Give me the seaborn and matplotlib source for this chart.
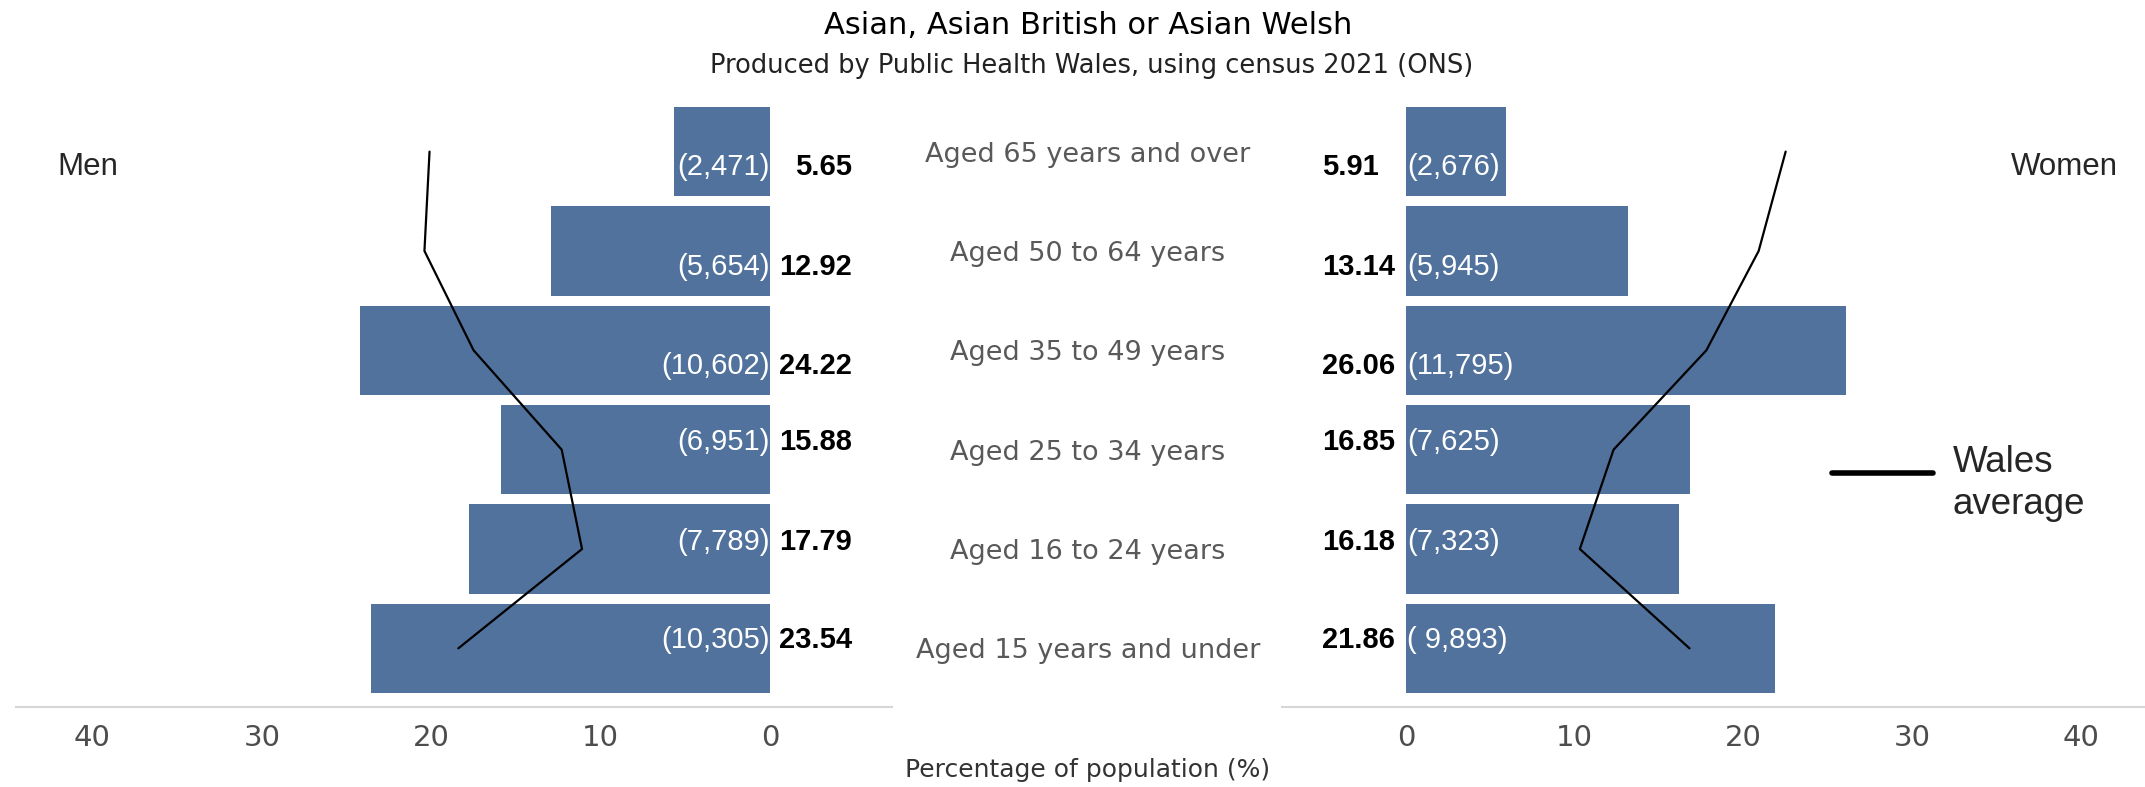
import pandas as pd
import matplotlib.pyplot as plt
import seaborn as sns
from matplotlib.lines import Line2D

# data (top row = oldest group)
age_groups = ['Aged 65 years and over', 'Aged 50 to 64 years', 'Aged 35 to 49 years',
              'Aged 25 to 34 years', 'Aged 16 to 24 years', 'Aged 15 years and under']
men_pct = [5.65, 12.92, 24.22, 15.88, 17.79, 23.54]
women_pct = [5.91, 13.14, 26.06, 16.85, 16.18, 21.86]
men_count = ['(2,471)', '(5,654)', '(10,602)', '(6,951)', '(7,789)', '(10,305)']
women_count = ['(2,676)', '(5,945)', '(11,795)', '(7,625)', '(7,323)', '( 9,893)']
wales_men = [20.1, 20.4, 17.5, 12.3, 11.1, 18.4]
wales_women = [22.5, 20.9, 17.8, 12.3, 10.3, 16.8]
tick_vals = [0, 10, 20, 30, 40]

df = pd.DataFrame({'age': age_groups, 'men': men_pct, 'women': women_pct})
df['pos'] = range(len(df))

# label nudges (tableau puts them a bit off centre)
label_dy = [0.15, 0.16, 0.16, -0.08, -0.07, -0.08]

bar_col = '#51729c'
grey = '#d6d6d6'
sns.set_style('white')
plt.rcParams['font.family'] = ['DejaVu Sans']

fig = plt.figure(figsize=(21.45, 7.87), dpi=100)
bottom, height = 0.1017, 0.7713
ax_m = fig.add_axes([0.0075, bottom, 0.4084, height])
ax_c = fig.add_axes([0.416, bottom, 0.182, height])
ax_w = fig.add_axes([0.5977, bottom, 0.4023, height])

sns.barplot(data=df, x='men', y='pos', orient='h', native_scale=True, color=bar_col,
            saturation=1, width=0.9, linewidth=0, ax=ax_m)
sns.barplot(data=df, x='women', y='pos', orient='h', native_scale=True, color=bar_col,
            saturation=1, width=0.9, linewidth=0, ax=ax_w)
sns.lineplot(x=wales_men, y=df['pos'], sort=False, color='black', lw=1.6, ax=ax_m)
sns.lineplot(x=wales_women, y=df['pos'], sort=False, color='black', lw=1.6, ax=ax_w)

ax_m.set_xlim(44.5, -7.2)
ax_w.set_xlim(-7.35, 43.8)

for ax in (ax_m, ax_w, ax_c):
    ax.set_ylim(5.59, -0.52)
    ax.set_ylabel('')
    ax.set_xlabel('')
    ax.set_yticks([])
    for s in ['top', 'left', 'right']:
        ax.spines[s].set_visible(False)
    ax.spines['bottom'].set_color(grey)
    ax.spines['bottom'].set_linewidth(1.5)

for ax in (ax_m, ax_w):
    ax.set_xticks(tick_vals)
    ax.tick_params(axis='x', labelsize=21, labelcolor='#4d4d4d', color=grey,
                   length=4, direction='inout', pad=10)

ax_c.axis('off')
ax_c.set_xlim(0, 1)
mid_x = (1088 / 2145 - 0.416) / 0.182

for i in range(len(df)):
    y = i + label_dy[i]
    ax_m.text(0, y, men_count[i], ha='right', va='center', color='white',
              fontsize=21, family='Liberation Sans')
    ax_m.text(-4.84, y, f'{men_pct[i]:.2f}', ha='right', va='center', color='black',
              fontsize=21, fontweight='bold', family='Liberation Sans')
    ax_w.text(0.05, y, women_count[i], ha='left', va='center', color='white',
              fontsize=21, family='Liberation Sans')
    ax_w.text(-5.0, y, f'{women_pct[i]:.2f}', ha='left', va='center', color='black',
              fontsize=21, fontweight='bold', family='Liberation Sans')
    ax_c.text(mid_x, i + 0.03, age_groups[i], ha='center', va='center', color='#595959',
              fontsize=19.5)

fig.text(1088 / 2145, 1 - 25 / 787, 'Asian, Asian British or Asian Welsh', ha='center',
         va='center', fontsize=22, color='black')
fig.text(1092 / 2145, 1 - 66 / 787, 'Produced by Public Health Wales, using census 2021 (ONS)',
         ha='center', va='center', fontsize=18.5, color='#222222')
fig.text(1088 / 2145, 1 - 770 / 787, 'Percentage of population (%)', ha='center',
         va='center', fontsize=18, color='#333333')

fig.text(57 / 2145, 1 - 167 / 787, 'Men', ha='left', va='center', fontsize=22.5,
         family='Liberation Sans')
fig.text(2118 / 2145, 1 - 167 / 787, 'Women', ha='right', va='center', fontsize=22.5,
         family='Liberation Sans')

# legend for the Wales average line
fig.add_artist(Line2D([1832 / 2145, 1933 / 2145], [1 - 473 / 787, 1 - 473 / 787],
                      color='black', lw=4, transform=fig.transFigure))
fig.text(1953 / 2145, 1 - 472 / 787, 'Wales', ha='left', va='baseline', fontsize=26.5,
         family='Liberation Sans')
fig.text(1953 / 2145, 1 - 514 / 787, 'average', ha='left', va='baseline', fontsize=26.5,
         family='Liberation Sans')

plt.savefig('out.png', dpi=100)
